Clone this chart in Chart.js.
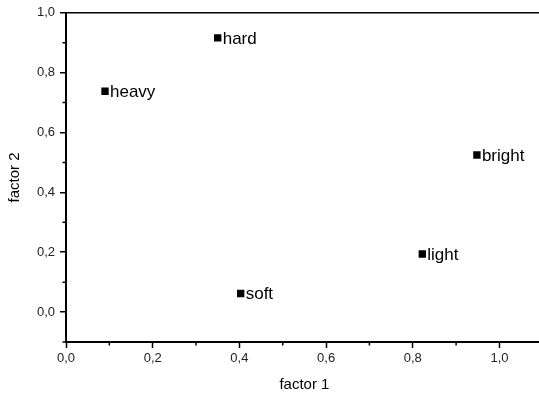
<!DOCTYPE html>
<html>
<head>
<meta charset="utf-8">
<script src="https://cdn.jsdelivr.net/npm/chart.js@4/dist/chart.umd.min.js"></script>
<style>
  html, body { margin: 0; padding: 0; background: #fff; overflow: hidden; width: 539px; height: 401px; }
  canvas { display: block; }
</style>
</head>
<body>
<canvas id="chart" width="548" height="401"></canvas>
<script>
// Data
const words = ['hard', 'heavy', 'bright', 'light', 'soft'];
const factor1 = [0.350, 0.090, 0.948, 0.822, 0.403];
const factor2 = [0.916, 0.738, 0.525, 0.194, 0.062];
const xTicks = [0.0, 0.2, 0.4, 0.6, 0.8, 1.0];
const yTicks = [0.0, 0.2, 0.4, 0.6, 0.8, 1.0];
const xMinor = [0.1, 0.3, 0.5, 0.7, 0.9];
const yMinor = [-0.1, 0.1, 0.3, 0.5, 0.7, 0.9];

const FONT = '"Liberation Sans", Arial, sans-serif';
const fmt = v => v.toFixed(1).replace('.', ',');

// point labels + minor ticks
const extras = {
    id: 'extras',
    afterDatasetsDraw(chart) {
        const ctx = chart.ctx;
        const meta = chart.getDatasetMeta(0);
        ctx.save();
        ctx.fillStyle = '#000';
        ctx.font = '17px ' + FONT;
        ctx.textBaseline = 'middle';
        ctx.textAlign = 'left';
        meta.data.forEach((pt, i) => {
            ctx.fillText(words[i], pt.x + 5, pt.y + 1);
        });
        ctx.restore();
    },
    afterDraw(chart) {
        const ctx = chart.ctx;
        const xs = chart.scales.x, ys = chart.scales.y;
        const area = chart.chartArea;
        ctx.save();
        ctx.strokeStyle = '#000';
        ctx.lineWidth = 1.5;
        ctx.beginPath();
        xMinor.forEach(v => {
            const px = xs.getPixelForValue(v);
            ctx.moveTo(px, area.bottom);
            ctx.lineTo(px, area.bottom + 3.5);
        });
        yMinor.forEach(v => {
            const py = ys.getPixelForValue(v);
            ctx.moveTo(area.left, py);
            ctx.lineTo(area.left - 3.5, py);
        });
        ctx.stroke();
        ctx.restore();
    }
};

new Chart(document.getElementById('chart'), {
    type: 'scatter',
    data: {
        datasets: [{
            data: factor1.map((x, i) => ({ x: x, y: factor2[i] })),
            pointStyle: 'rect',
            pointRadius: 5.2,
            pointHoverRadius: 5.2,
            backgroundColor: '#000',
            borderColor: '#000',
            borderWidth: 0
        }]
    },
    options: {
        responsive: false,
        animation: false,
        layout: { padding: { top: 10, right: 0, left: 0, bottom: 0 } },
        plugins: {
            legend: { display: false },
            tooltip: { enabled: false }
        },
        scales: {
            x: {
                type: 'linear',
                min: 0,
                max: 1.1,
                afterBuildTicks: s => { s.ticks = xTicks.map(v => ({ value: v })); },
                afterFit: s => { s.height = 59; },
                border: { display: true, color: '#000', width: 2 },
                grid: { drawOnChartArea: false, tickLength: 6, tickWidth: 1.5, tickColor: '#000' },
                ticks: {
                    padding: 3,
                    color: '#222',
                    font: { family: FONT, size: 13 },
                    callback: v => fmt(v)
                },
                title: {
                    display: true,
                    text: 'factor 1',
                    color: '#000',
                    font: { family: FONT, size: 15 },
                    padding: { top: 4, bottom: 7 }
                }
            },
            y: {
                type: 'linear',
                min: -0.1,
                max: 1.0,
                afterBuildTicks: s => { s.ticks = yTicks.map(v => ({ value: v })); },
                afterFit: s => { s.width = 66; },
                border: { display: true, color: '#000', width: 2 },
                grid: {
                    drawOnChartArea: true,
                    color: c => (c.tick && c.tick.value === 1 ? '#000' : 'rgba(0,0,0,0)'),
                    lineWidth: 1.5,
                    tickLength: 6,
                    tickWidth: 1.5,
                    tickColor: '#000'
                },
                ticks: {
                    padding: 5,
                    color: '#222',
                    font: { family: FONT, size: 13 },
                    callback: v => fmt(v)
                },
                title: {
                    display: true,
                    text: 'factor 2',
                    color: '#000',
                    font: { family: FONT, size: 15 },
                    padding: { top: 6, bottom: 2 }
                }
            }
        }
    },
    plugins: [extras]
});
</script>
</body>
</html>
